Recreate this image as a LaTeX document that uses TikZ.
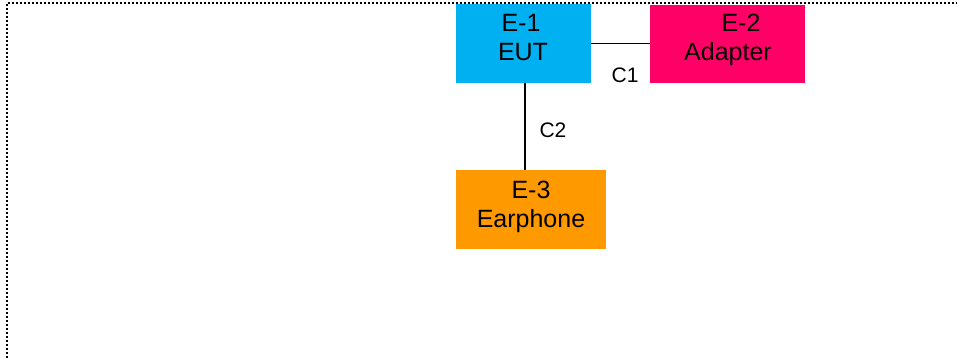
\documentclass[tikz,border=0pt]{standalone}
\usepackage{fontspec}
\setmainfont{Liberation Sans}
\definecolor{eutblue}{HTML}{00B0F0}
\definecolor{adapink}{HTML}{FF0066}
\definecolor{earorange}{HTML}{FF9900}
\begin{document}
\begin{tikzpicture}[x=1pt,y=-1pt,
  box/.style={draw=none,inner sep=0pt,outer sep=0pt},
  boxtext/.style={anchor=base,inner sep=0pt,font=\fontsize{25}{30}\selectfont},
  lbl/.style={anchor=base,inner sep=0pt,font=\fontsize{21}{25}\selectfont},
  wire/.style={line width=1.5pt,black}]
\useasboundingbox (0,0) rectangle (957,358);
% dotted frame (continues past the right and bottom edges)
\draw[line width=2pt,dash pattern=on 2pt off 2pt] (6.5,362) -- (6.5,3.5) -- (962,3.5);
% boxes
\node[box,fill=eutblue,minimum width=135pt,minimum height=79pt] (e1) at (523.5,43.5) {};
\node[box,fill=adapink,minimum width=155pt,minimum height=78pt] (e2) at (727.5,44) {};
\node[box,fill=earorange,minimum width=150pt,minimum height=79pt] (e3) at (531,209.5) {};
% box texts
\node[boxtext] (e1a) at (521,32) {E-1};
\node[boxtext] (e1b) at (523,61) {EUT};
\node[boxtext] (e2a) at (741,32) {E-2};
\node[boxtext] (e2b) at (728,61) {Adapter};
\node[boxtext] (e3a) at (531,198) {E-3};
\node[boxtext] (e3b) at (531,227) {Earphone};
% connectors
\coordinate (c2top) at ([xshift=1.5pt]e1.south);
\draw[wire] (e1.east) -- (e2.west |- e1.east);
\draw[wire] (c2top) -- (c2top |- e3.north);
% labels
\node[lbl] (c1) at (625,83) {C1};
\node[lbl] (c2) at (553,138) {C2};
\end{tikzpicture}
\end{document}
